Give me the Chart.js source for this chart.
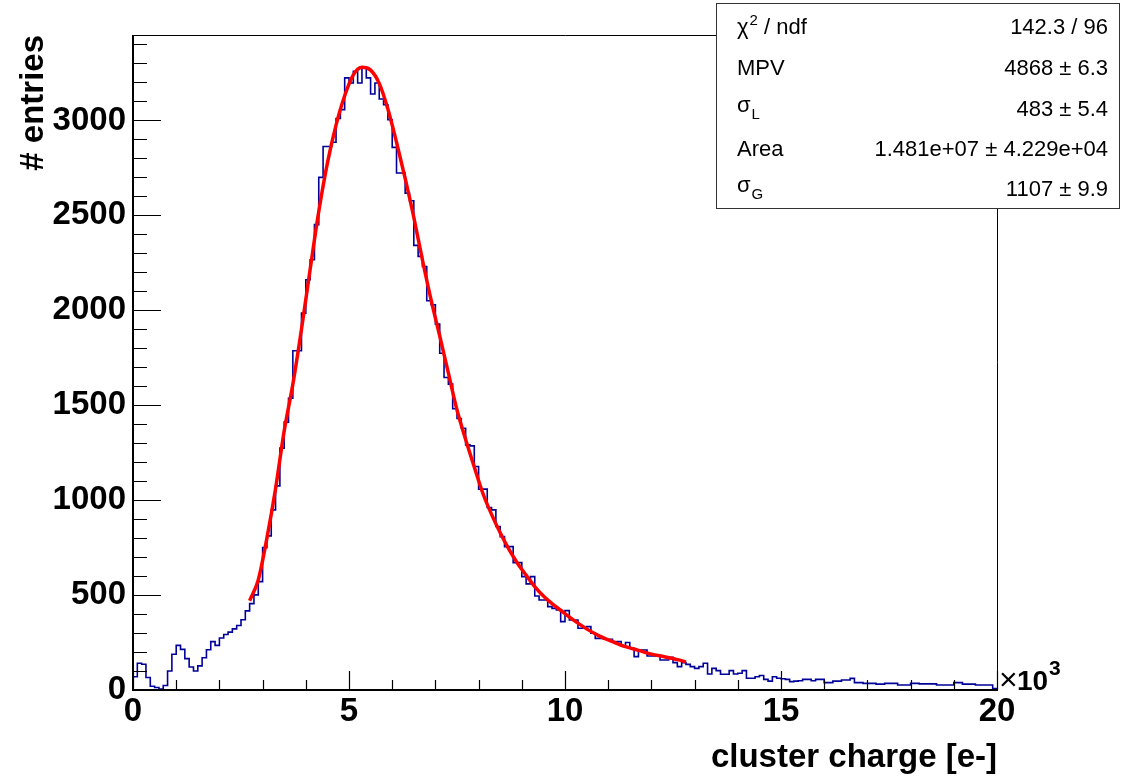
<!DOCTYPE html>
<html>
<head>
<meta charset="utf-8">
<script src="https://cdn.jsdelivr.net/npm/chart.js@4.4.1/dist/chart.umd.min.js"></script>
<style>
html,body{margin:0;padding:0;background:#ffffff;}
canvas{display:block;}
</style>
</head>
<body>
<canvas id="c" width="1124" height="776"></canvas>
<script>
// ---------------- data ----------------
const binLow = 0;          // lower edge of first bin [e-]
const binWidth = 100;      // bin width [e-]
const binCounts = [
  70, 141, 136, 66, 20, 13, 5, 24, 100, 188,
  235, 214, 165, 121, 100, 127, 170, 212, 255, 235,
  274, 292, 305, 322, 340, 370, 417, 455, 501, 571,
  750, 812, 949, 1075, 1274, 1411, 1537, 1787, 1787, 1985,
  2161, 2266, 2451, 2700, 2863, 2863, 2885, 3010, 3057, 3224,
  3197, 3259, 3197, 3280, 3224, 3139, 3197, 3113, 3083, 3004,
  2858, 2723, 2723, 2617, 2577, 2342, 2284, 2231, 2050, 2029,
  1927, 1774, 1646, 1611, 1481, 1430, 1379, 1291, 1286, 1177,
  1058, 1058, 961, 949, 861, 808, 755, 755, 671, 671,
  597, 559, 597, 495, 474, 474, 439, 430, 422, 360,
  418, 369, 369, 325, 325, 334, 299, 272, 272, 267,
  267, 255, 255, 232, 250, 220, 176, 211, 211, 179,
  179, 185, 158, 158, 172, 144, 123, 144, 135, 123,
  114, 123, 141, 84, 114, 102, 83, 83, 102, 84,
  88, 102, 62, 62, 70, 76, 56, 47, 70, 62,
  59, 56, 44, 47, 49, 56, 56, 49, 56, 56,
  39, 39, 47, 47, 53, 53, 61, 39, 39, 35,
  35, 35, 31, 31, 35, 35, 35, 26, 26, 26,
  35, 35, 32, 32, 32, 32, 26, 26, 26, 26,
  39, 39, 31, 31, 31, 26, 26, 26, 26, 7
];

// Landau (x) Gauss fit curve
const fitX = [2700, 2900, 3100, 3300, 3500, 3700, 3900, 4100, 4300, 4500,
              4700, 4900, 5100, 5300, 5500, 5700, 5900, 6100, 6300, 6500,
              6700, 6900, 7100, 7300, 7500, 7700, 7900, 8100, 8300, 8500,
              8700, 8900, 9100, 9300, 9500, 9700, 9900, 10200, 10500, 10800,
              11100, 11400, 11700, 12000, 12300, 12600, 12800];
const fitY = [470, 580, 800, 1060, 1365, 1610, 1900, 2215, 2520, 2775,
              2975, 3130, 3240, 3280, 3265, 3195, 3060, 2885, 2695, 2490,
              2265, 2055, 1865, 1670, 1475, 1320, 1175, 1035, 925, 828,
              742, 668, 605, 545, 495, 455, 420, 368, 322, 284,
              255, 228, 209, 189, 175, 160, 148];

// axes
const xMin = 0, xMax = 20000;
const yMin = 0, yMax = 3450;
const xMajorTicks = [0, 5000, 10000, 15000, 20000];
const xTickLabels = ['0', '5', '10', '15', '20'];
const xMinorStep = 1000;
const yMajorTicks = [0, 500, 1000, 1500, 2000, 2500, 3000];
const yTickLabels = ['0', '500', '1000', '1500', '2000', '2500', '3000'];
const yMinorStep = 100;
const xTitle = 'cluster charge [e-]';
const yTitle = '# entries';
const xExponent = '3';

// statistics box
const statNames   = ['\u03C7', 'MPV', '\u03C3', 'Area', '\u03C3'];
const statScripts = ['2', '', 'L', '', 'G'];
const statKinds   = ['sup', '', 'sub', '', 'sub'];
const statTails   = [' / ndf', '', '', '', ''];
const statValues  = ['142.3 / 96', '4868 \u00B1 6.3', '483 \u00B1 5.4',
                     '1.481e+07 \u00B1 4.229e+04', '1107 \u00B1 9.9'];

// ---------------- build library data ----------------
const histPoints = binCounts.map((v, i) => ({x: binLow + i * binWidth, y: v}));
histPoints.push({x: binLow + binCounts.length * binWidth, y: binCounts[binCounts.length - 1]});
const fitPoints = fitX.map((x, i) => ({x: x, y: fitY[i]}));

const FONT = '"Liberation Sans", Arial, Helvetica, sans-serif';

const rootFrame = {
  id: 'rootFrame',
  afterDraw(chart) {
    const ctx = chart.ctx;
    const a = chart.chartArea;
    const xs = chart.scales.x, ys = chart.scales.y;
    ctx.save();
    // frame (top / right thin)
    ctx.strokeStyle = '#000';
    ctx.lineWidth = 1;
    ctx.beginPath();
    ctx.moveTo(a.left, a.top + 0.5);
    ctx.lineTo(a.right + 0.5, a.top + 0.5);
    ctx.lineTo(a.right + 0.5, a.bottom);
    ctx.stroke();
    // axes (left / bottom)
    ctx.lineWidth = 2;
    ctx.beginPath();
    ctx.moveTo(a.left, a.top);
    ctx.lineTo(a.left, a.bottom);
    ctx.lineTo(a.right + 1, a.bottom);
    ctx.stroke();
    // ticks, pointing inward
    ctx.lineWidth = 1.2;
    ctx.beginPath();
    for (let v = yMin; v <= yMax; v += yMinorStep) {
      const p = Math.round(ys.getPixelForValue(v)) + 0.5;
      const len = yMajorTicks.includes(v) ? 28 : 14;
      ctx.moveTo(a.left, p); ctx.lineTo(a.left + len, p);
    }
    for (let v = xMin; v <= xMax; v += xMinorStep) {
      const p = Math.round(xs.getPixelForValue(v)) + 0.5;
      const len = xMajorTicks.includes(v) ? 19 : 10;
      ctx.moveTo(p, a.bottom); ctx.lineTo(p, a.bottom - len);
    }
    ctx.stroke();

    // exponent label  x10^3
    ctx.fillStyle = '#000';
    ctx.textBaseline = 'alphabetic';
    ctx.textAlign = 'left';
    ctx.font = '32px ' + FONT;
    ctx.fillText('\u00D7', a.right + 2, a.bottom);
    ctx.font = 'bold 28px ' + FONT;
    ctx.fillText('10', a.right + 20, a.bottom);
    ctx.font = 'bold 21px ' + FONT;
    ctx.fillText(xExponent, a.right + 52, a.bottom - 15);

    // axis titles
    ctx.font = 'bold 33px ' + FONT;
    ctx.textAlign = 'right';
    ctx.fillText(xTitle, a.right, 767);
    ctx.save();
    ctx.translate(43, a.top);
    ctx.rotate(-Math.PI / 2);
    ctx.textAlign = 'right';
    ctx.fillText(yTitle, 0, 0);
    ctx.restore();

    // statistics box
    const bx = 716, by = 3, bw = 403, bh = 205;
    ctx.fillStyle = '#fff';
    ctx.fillRect(bx, by, bw, bh);
    ctx.strokeStyle = '#333';
    ctx.lineWidth = 1;
    ctx.strokeRect(bx + 0.5, by + 0.5, bw, bh);
    const baselines = [34, 75, 116, 156, 196];
    ctx.fillStyle = '#000';
    for (let i = 0; i < statNames.length; i++) {
      const yb = baselines[i];
      let x = 737;
      ctx.textAlign = 'left';
      ctx.font = '22px ' + FONT;
      ctx.fillText(statNames[i], x, yb - (statKinds[i] === 'sub' ? 4 : 0));
      x += ctx.measureText(statNames[i]).width;
      if (statScripts[i]) {
        ctx.font = '15px ' + FONT;
        const dy = statKinds[i] === 'sup' ? -9 : 3;
        ctx.fillText(statScripts[i], x + 1, yb + dy);
        x += ctx.measureText(statScripts[i]).width + 1;
      }
      if (statTails[i]) {
        ctx.font = '22px ' + FONT;
        ctx.fillText(statTails[i], x, yb);
      }
      ctx.font = '22px ' + FONT;
      ctx.textAlign = 'right';
      ctx.fillText(statValues[i], 1108, yb);
    }
    ctx.restore();
  }
};

new Chart(document.getElementById('c').getContext('2d'), {
  type: 'line',
  data: {
    datasets: [
      {
        label: 'fit',
        data: fitPoints,
        borderColor: '#ff0000',
        borderWidth: 3.5,
        pointRadius: 0,
        fill: false,
        cubicInterpolationMode: 'monotone'
      },
      {
        label: 'cluster charge',
        data: histPoints,
        stepped: 'before',
        borderColor: '#000099',
        borderWidth: 1.6,
        pointRadius: 0,
        fill: false,
        tension: 0
      }
    ]
  },
  options: {
    responsive: false,
    animation: false,
    events: [],
    layout: {padding: {left: 0, top: 35, right: 127, bottom: 0}},
    plugins: {legend: {display: false}, tooltip: {enabled: false}, title: {display: false}},
    scales: {
      x: {
        type: 'linear',
        min: xMin, max: xMax,
        grid: {display: false, drawTicks: false},
        border: {display: false},
        afterBuildTicks: s => { s.ticks = xMajorTicks.map(v => ({value: v})); },
        afterFit: s => { s.height = 86; },
        ticks: {
          autoSkip: false, maxRotation: 0, minRotation: 0,
          padding: 2,
          color: '#000',
          font: {family: FONT, size: 33, weight: 'bold'},
          callback: v => xTickLabels[xMajorTicks.indexOf(v)]
        }
      },
      y: {
        type: 'linear',
        min: yMin, max: yMax,
        grid: {display: false, drawTicks: false},
        border: {display: false},
        afterBuildTicks: s => { s.ticks = yMajorTicks.map(v => ({value: v})); },
        afterFit: s => { s.width = 133; },
        ticks: {
          autoSkip: false,
          padding: 7,
          color: '#000',
          font: {family: FONT, size: 33, weight: 'bold'},
          callback: v => yTickLabels[yMajorTicks.indexOf(v)]
        }
      }
    }
  },
  plugins: [rootFrame]
});
</script>
</body>
</html>
